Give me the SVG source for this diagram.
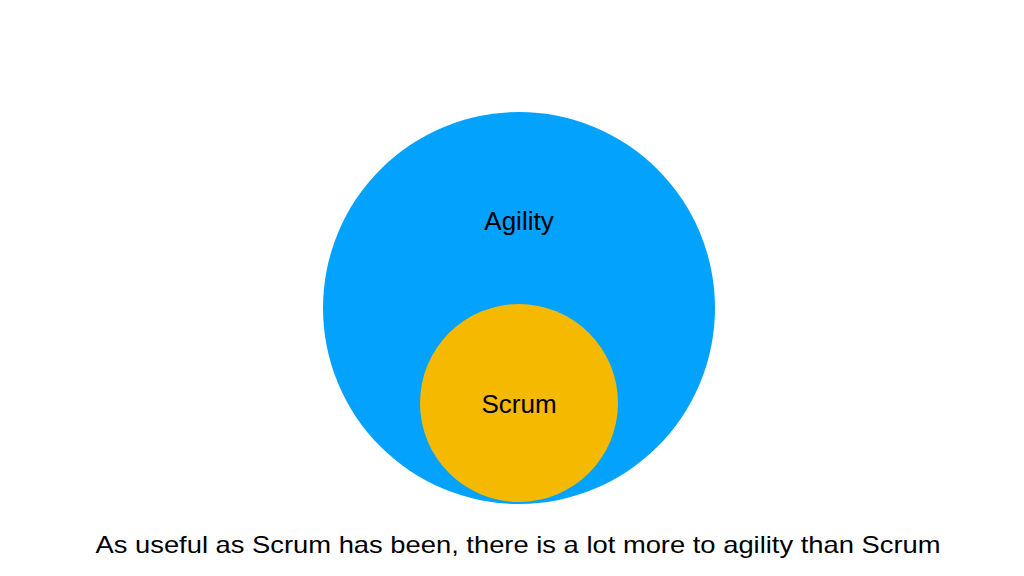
<svg xmlns="http://www.w3.org/2000/svg" width="1024" height="576" viewBox="0 0 1024 576">
<style>
text{font-family:"Liberation Sans",Arial,sans-serif;fill:#000;text-anchor:middle}
.l{font-size:26px}
</style>
<rect width="1024" height="576" fill="#fff"/>
<g id="agility">
<circle cx="519" cy="308" r="196" fill="#03A2FD"/>
<text class="l" x="519" y="230">Agility</text>
</g>
<g id="scrum">
<circle cx="519" cy="403" r="99" fill="#F5B900"/>
<text class="l" x="519" y="413">Scrum</text>
</g>
<g id="connectors"/>
<text x="518" y="553" font-size="24" textLength="845" lengthAdjust="spacingAndGlyphs">As useful as Scrum has been, there is a lot more to agility than Scrum</text>
</svg>
